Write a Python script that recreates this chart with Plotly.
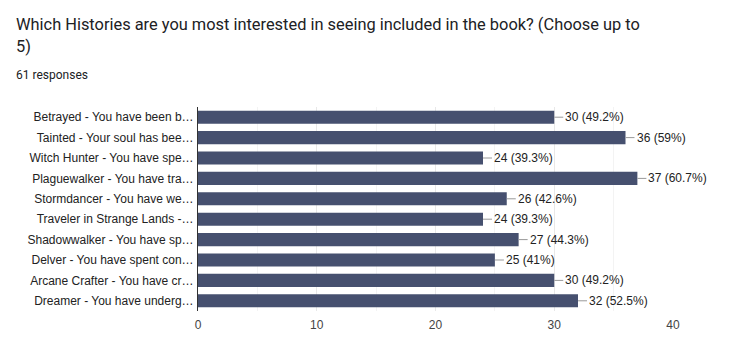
import plotly.graph_objects as go

categories = [
    "Betrayed - You have been b…",
    "Tainted - Your soul has bee…",
    "Witch Hunter - You have spe…",
    "Plaguewalker - You have tra…",
    "Stormdancer - You have we…",
    "Traveler in Strange Lands -…",
    "Shadowwalker - You have sp…",
    "Delver - You have spent con…",
    "Arcane Crafter - You have cr…",
    "Dreamer - You have underg…",
]
counts = [30, 36, 24, 37, 26, 24, 27, 25, 30, 32]
labels = ["30 (49.2%)", "36 (59%)", "24 (39.3%)", "37 (60.7%)", "26 (42.6%)",
          "24 (39.3%)", "27 (44.3%)", "25 (41%)", "30 (49.2%)", "32 (52.5%)"]
tick_vals = [0, 10, 20, 30, 40]

title_line1 = "Which Histories are you most interested in seeing included in the book? (Choose up to"
title_line2 = "5)"
subtitle = "61 responses"

# page body adds an 8px offset; compensate in margins
OFF = 8
L, T, PW, PH = 198 - OFF, 107 - OFF, 475, 204

fig = go.Figure(go.Bar(
    x=counts, y=categories, orientation="h",
    marker=dict(color="#46506f", line=dict(width=0)),
    hoverinfo="skip",
))

annotations = []
for c, cat, lab in zip(counts, categories, labels):
    annotations.append(dict(
        x=c, y=cat, xref="x", yref="y", text=lab, showarrow=True,
        arrowhead=0, arrowwidth=1, arrowcolor="#999999", ax=9, ay=0,
        xanchor="left", yanchor="middle", standoff=0, startstandoff=0,
        font=dict(family="Liberation Sans, Arial", size=12, color="#222222"),
    ))

text_font = dict(family="Roboto", color="#202124")

def ypaper(py):
    return 1 + (T - (py - OFF)) / PH

xleft = -(L - (14 - OFF)) / PW
annotations += [
    dict(text=title_line1, xref="paper", yref="paper", x=xleft, y=ypaper(24),
         xanchor="left", yanchor="middle", showarrow=False, font=dict(size=16.4, **text_font)),
    dict(text=title_line2, xref="paper", yref="paper", x=xleft, y=ypaper(47),
         xanchor="left", yanchor="middle", showarrow=False, font=dict(size=16.4, **text_font)),
    dict(text=subtitle, xref="paper", yref="paper", x=xleft, y=ypaper(75),
         xanchor="left", yanchor="middle", showarrow=False, font=dict(size=12, **text_font)),
]

fig.update_layout(
    width=747, height=362,
    margin=dict(l=L, r=747 - L - PW, t=T, b=362 - T - PH, pad=0),
    paper_bgcolor="white", plot_bgcolor="white",
    bargap=0.36,
    showlegend=False,
    annotations=annotations,
    xaxis=dict(
        range=[0, 40], tickvals=tick_vals, showgrid=True, gridcolor="#e8e8e8",
        zeroline=False, showline=False, ticks="",
        tickfont=dict(family="Liberation Sans, Arial", size=12, color="#444444"),
        minor=dict(dtick=5, showgrid=True, gridcolor="#f3f3f3"),
        ticklabelstandoff=5,
        fixedrange=True,
    ),
    yaxis=dict(
        autorange="reversed", showline=True, linecolor="#333333", linewidth=1,
        ticks="", showgrid=False,
        tickfont=dict(family="Liberation Sans, Arial", size=12, color="#222222"),
        ticklabelstandoff=1,
        fixedrange=True,
    ),
)

fig.write_html("out.html")
